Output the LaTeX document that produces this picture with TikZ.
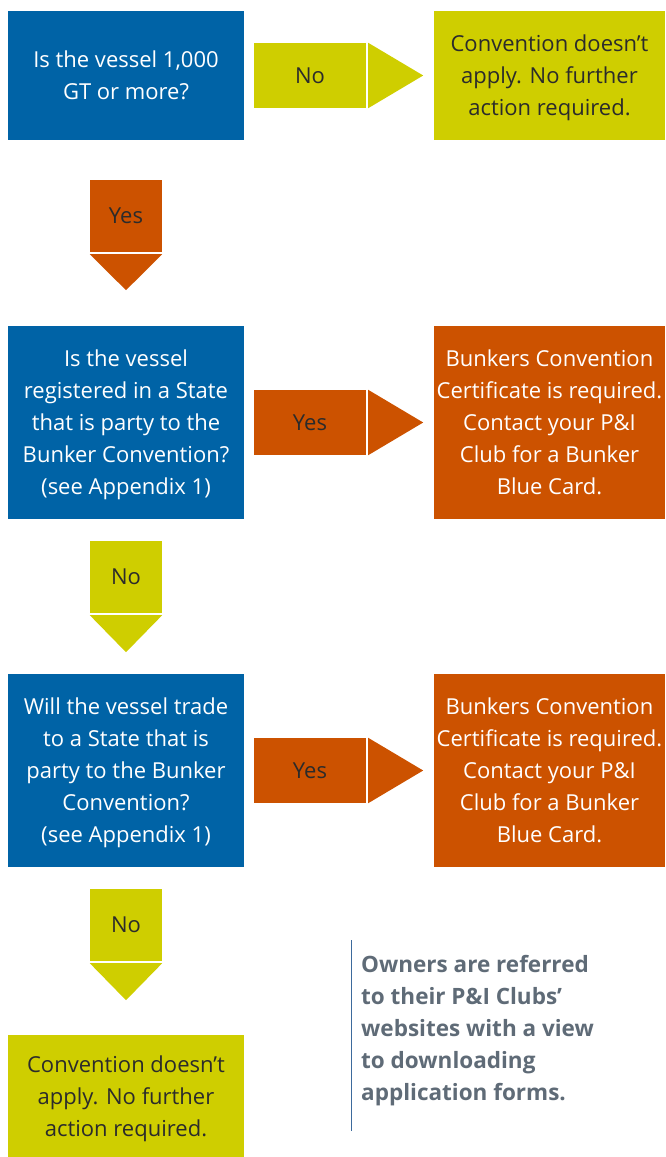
\documentclass[tikz,border=0pt]{standalone}
\usepackage{fontspec}
\setmainfont{Open Sans}
\definecolor{pblue}{HTML}{0063A6}
\definecolor{pgreen}{HTML}{CFCE00}
\definecolor{porange}{HTML}{CC5200}
\definecolor{dtext}{HTML}{2B2B2B}
\definecolor{gtext}{HTML}{5F6B77}
\definecolor{pline}{HTML}{3D6A9C}
\tikzset{
  box/.style={rectangle, inner sep=0pt, align=center, font=\fontsize{22}{32}\selectfont},
  qbox/.style={box, fill=pblue, text=white, minimum width=236pt, text depth=0pt},
  gbox/.style={box, fill=pgreen, text=dtext},
  obox/.style={box, fill=porange, text=white},
  hlab/.style={box, minimum width=112pt, minimum height=65pt, text=dtext},
  vlab/.style={box, minimum width=72pt, minimum height=72pt, text=dtext},
  rbox/.style={box, minimum width=231pt},
  note/.style={inner sep=0pt, align=left, text=gtext, font=\fontsize{22.5}{32}\selectfont\bfseries}
}
\begin{document}
\begin{tikzpicture}[x=1pt,y=-1pt]
\useasboundingbox (0,0) rectangle (665,1157);
% row 1
\node[qbox, minimum height=129pt] (q1) at (126,75.5) {Is the vessel 1,000\\GT or more?};
\node[hlab, fill=pgreen] (a1) at (310,75.5) {No};
\fill[pgreen] ([xshift=2pt]a1.north east) -- ([xshift=2pt]a1.south east) -- ([xshift=57pt]a1.east) -- cycle;
\node[gbox, rbox, minimum height=129pt, text depth=0pt] (r1) at (549.5,75.5) {Convention doesn’t\\apply. No further\\action required.};
% down 1
\node[vlab, fill=porange] (d1) at (126,216) {Yes};
\fill[porange] ([yshift=-2pt]d1.south west) -- ([yshift=-2pt]d1.south east) -- ([yshift=-38pt]d1.south) -- cycle;
% row 2
\node[qbox, minimum height=193pt] (q2) at (126,422.5) {Is the vessel\\registered in a State\\that is party to the\\Bunker Convention?\\(see Appendix 1)};
\node[hlab, fill=porange] (a2) at (310,422.5) {Yes};
\fill[porange] ([xshift=2pt]a2.north east) -- ([xshift=2pt]a2.south east) -- ([xshift=57pt]a2.east) -- cycle;
\node[obox, rbox, minimum height=193pt, text depth=0pt] (r2) at (549.5,422.5) {Bunkers Convention\\Certificate is required.\\Contact your P\&I\\Club for a Bunker\\Blue Card.};
% down 2
\node[vlab, fill=pgreen] (d2) at (126,577) {No};
\fill[pgreen] ([yshift=-2pt]d2.south west) -- ([yshift=-2pt]d2.south east) -- ([yshift=-39pt]d2.south) -- cycle;
% row 3
\node[qbox, minimum height=193pt] (q3) at (126,770.5) {Will the vessel trade\\to a State that is\\party to the Bunker\\Convention?\\(see Appendix 1)};
\node[hlab, fill=porange] (a3) at (310,770.5) {Yes};
\fill[porange] ([xshift=2pt]a3.north east) -- ([xshift=2pt]a3.south east) -- ([xshift=57pt]a3.east) -- cycle;
\node[obox, rbox, minimum height=193pt, text depth=0pt] (r3) at (549.5,770.5) {Bunkers Convention\\Certificate is required.\\Contact your P\&I\\Club for a Bunker\\Blue Card.};
% down 3
\node[vlab, fill=pgreen] (d3) at (126,925) {No};
\fill[pgreen] ([yshift=-2pt]d3.south west) -- ([yshift=-2pt]d3.south east) -- ([yshift=-39pt]d3.south) -- cycle;
% end
\node[gbox, minimum width=236pt, minimum height=122pt, text depth=0pt] (e4) at (126,1096) {Convention doesn’t\\apply. No further\\action required.};
% note
\coordinate (lt) at (351.5,940);
\coordinate (lb) at (351.5,1131);
\draw[pline, line width=1.3pt] (lt) -- (lb);
\node[note, anchor=north west] (n1) at (361,955) {Owners are referred\\to their P\&I Clubs’\\websites with a view\\to downloading\\application forms.};
\end{tikzpicture}
\end{document}
